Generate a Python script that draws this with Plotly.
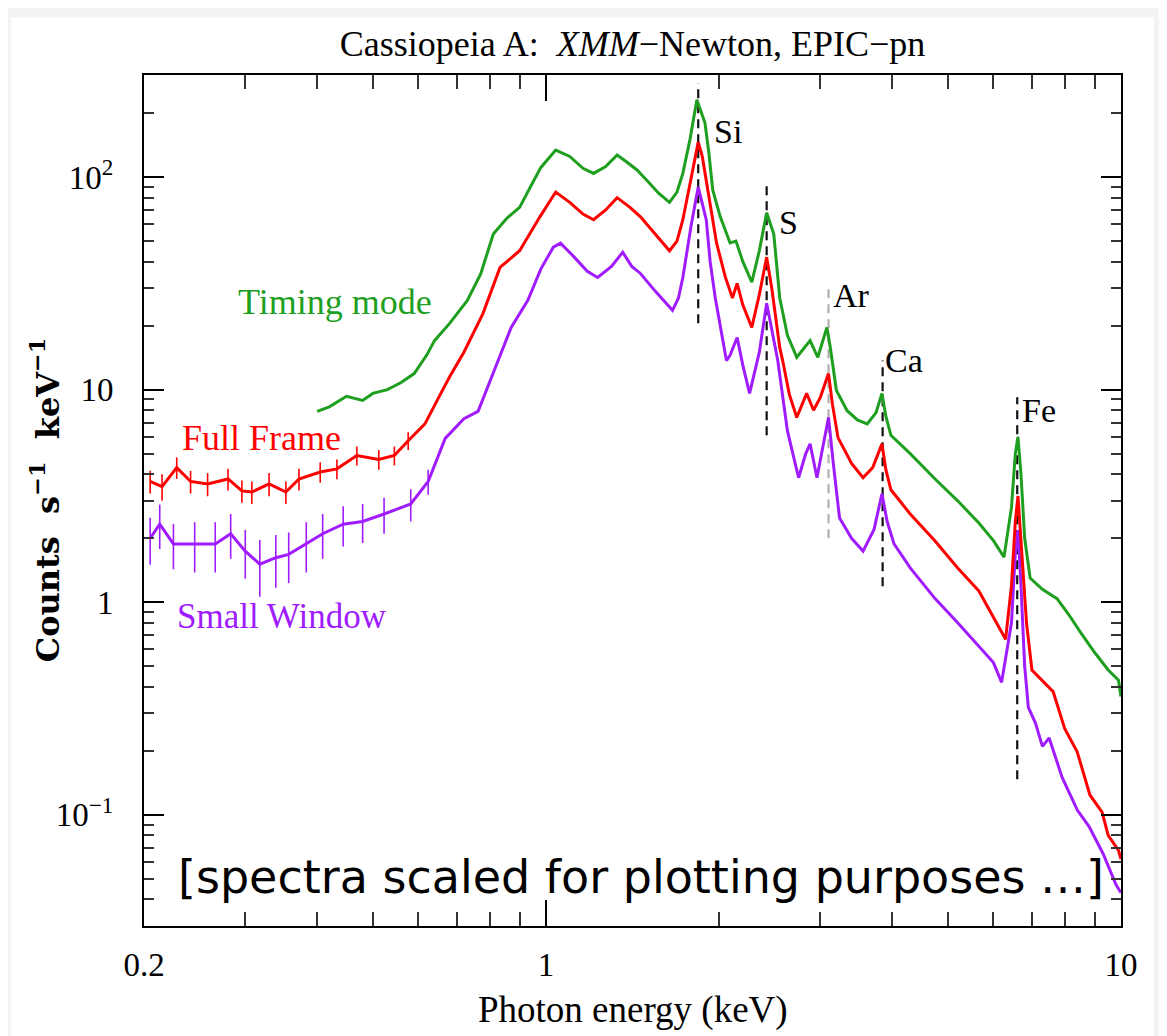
import numpy as np
import plotly.graph_objects as go

# ---------------- data ----------------
green_E = [0.40, 0.42, 0.45, 0.48, 0.50, 0.53, 0.56, 0.59, 0.62, 0.64, 0.68, 0.73, 0.77, 0.81,
           0.855, 0.90, 0.94, 0.98, 1.04, 1.10, 1.16, 1.21, 1.27, 1.33, 1.38, 1.44, 1.50, 1.57,
           1.64, 1.69, 1.73, 1.78, 1.83, 1.86, 1.89, 1.92, 1.95, 2.01, 2.09, 2.14, 2.20, 2.28,
           2.35, 2.42, 2.46, 2.49, 2.55, 2.63, 2.73, 2.80, 2.88, 2.97, 3.03, 3.08, 3.12, 3.20,
           3.34, 3.48, 3.62, 3.75, 3.84, 3.90, 3.98, 4.30, 4.75, 5.20, 5.66, 6.00, 6.26, 6.45,
           6.55, 6.62, 6.70, 6.80, 6.95, 7.30, 7.74, 8.10, 8.51, 9.00, 9.50, 9.90, 10.0]
green_V = [7.9, 8.3, 9.3, 8.9, 9.6, 10.0, 10.8, 11.9, 14.5, 17.0, 20.5, 26.3, 35.0, 54.0,
           64.0, 72.0, 90.0, 111.0, 134.0, 125.0, 110.0, 104.0, 112.0, 127.0, 118.0, 108.0, 96.0, 84.0,
           76.0, 85.0, 104.0, 150.0, 231.0, 205.0, 180.0, 130.0, 87.0, 65.0, 49.0, 50.0, 40.0, 32.0,
           45.0, 68.0, 60.0, 54.0, 27.0, 18.0, 14.2, 15.5, 17.0, 14.2, 17.0, 19.6, 16.0, 9.9,
           7.96, 7.2, 6.9, 7.8, 9.6, 7.5, 6.1, 5.0, 3.8, 3.0, 2.36, 1.95, 1.63, 2.8,
           5.0, 6.0, 4.0, 2.0, 1.30, 1.15, 1.04, 0.88, 0.72, 0.58, 0.48, 0.43, 0.36]

red_E = [0.205, 0.215, 0.228, 0.241, 0.258, 0.28, 0.296, 0.308, 0.33, 0.353, 0.372, 0.405,
         0.433, 0.469, 0.512, 0.545, 0.576, 0.616, 0.651, 0.68, 0.72, 0.777, 0.832, 0.90,
         0.976, 1.04, 1.10, 1.16, 1.21, 1.27, 1.33, 1.40, 1.46, 1.55, 1.64, 1.69, 1.73, 1.79,
         1.84, 1.87, 1.90, 1.98, 2.05, 2.11, 2.15, 2.20, 2.28, 2.35, 2.42, 2.47, 2.55, 2.58,
         2.65, 2.73, 2.84, 2.92, 3.00, 3.10, 3.15, 3.22, 3.40, 3.56, 3.70, 3.84, 3.90, 3.98,
         4.30, 4.75, 5.20, 5.66, 6.00, 6.30, 6.45, 6.55, 6.62, 6.72, 6.85, 7.00, 7.30, 7.62,
         7.98, 8.39, 8.83, 9.27, 9.50, 9.90, 10.0]
red_V = [3.7, 3.5, 4.3, 3.7, 3.6, 3.8, 3.34, 3.3, 3.6, 3.3, 3.8, 4.1,
         4.24, 4.9, 4.7, 4.9, 5.75, 6.9, 9.2, 11.5, 15.0, 22.8, 37.6, 45.0,
         65.0, 85.0, 76.0, 67.0, 63.0, 70.0, 80.0, 72.0, 65.0, 54.0, 45.0, 50.0, 63.0, 100.0,
         146.0, 125.0, 97.0, 49.0, 34.0, 27.0, 31.6, 25.0, 19.6, 28.0, 42.0, 30.0, 15.8, 13.7,
         9.5, 7.4, 9.6, 8.0, 9.2, 11.9, 8.5, 5.95, 4.5, 3.85, 4.3, 5.56, 4.2, 3.38,
         2.6, 1.94, 1.45, 1.13, 0.85, 0.67, 1.2, 2.4, 3.16, 1.8, 0.8, 0.48, 0.43, 0.38,
         0.255, 0.198, 0.124, 0.103, 0.080, 0.068, 0.062]
red_err = [0.45, 0.5, 0.5, 0.45, 0.45, 0.45, 0.4, 0.4, 0.45, 0.4, 0.45, 0.45,
           0.45, 0.5, 0.5, 0.5, 0.55]

purple_E = [0.205, 0.213, 0.225, 0.245, 0.266, 0.283, 0.300, 0.318, 0.339, 0.357, 0.383, 0.409,
            0.444, 0.48, 0.523, 0.582, 0.624, 0.668, 0.72, 0.762, 0.81, 0.87, 0.93, 0.98,
            1.03, 1.06, 1.12, 1.18, 1.23, 1.30, 1.36, 1.41, 1.46, 1.55, 1.66, 1.70, 1.73,
            1.79, 1.84, 1.87, 1.90, 1.93, 1.97, 2.06, 2.09, 2.15, 2.20, 2.26, 2.35, 2.42,
            2.46, 2.53, 2.63, 2.75, 2.83, 2.88, 2.96, 3.04, 3.10, 3.16, 3.24, 3.40, 3.56,
            3.72, 3.84, 3.92, 4.03, 4.30, 4.75, 5.20, 5.66, 6.00, 6.20, 6.45, 6.55, 6.62,
            6.70, 6.80, 6.90, 7.10, 7.30, 7.50, 7.90, 8.40, 8.80, 9.30, 9.80, 10.0]
purple_V = [2.0, 2.33, 1.88, 1.88, 1.88, 2.1, 1.74, 1.51, 1.62, 1.68, 1.88, 2.1,
            2.33, 2.4, 2.6, 2.9, 3.7, 5.9, 7.3, 7.9, 12.0, 19.6, 26.3, 37.0,
            46.8, 48.9, 42.0, 36.0, 33.7, 38.0, 44.3, 38.0, 35.2, 29.0, 23.6, 27.0, 33.7,
            60.0, 89.7, 75.0, 63.0, 40.0, 27.0, 13.7, 14.5, 17.6, 13.0, 9.6, 15.0, 25.5,
            20.0, 13.7, 6.4, 3.85, 5.0, 5.56, 3.85, 5.5, 7.4, 4.5, 2.49, 2.0, 1.74,
            2.2, 3.24, 2.4, 1.88, 1.45, 1.04, 0.80, 0.62, 0.52, 0.42, 0.8, 1.7, 2.19,
            1.2, 0.5, 0.32, 0.27, 0.21, 0.23, 0.15, 0.105, 0.088, 0.066, 0.047, 0.043]
purple_err = [0.5, 0.55, 0.45, 0.5, 0.5, 0.5, 0.45, 0.45, 0.45, 0.45, 0.5, 0.5,
              0.5, 0.5, 0.5, 0.5, 0.5]

series_names = ["Timing mode", "Full Frame", "Small Window"]

line_names = ["Si", "S", "Ar", "Ca", "Fe"]
line_E = [1.84, 2.42, 3.10, 3.85, 6.60]
line_top = [277.0, 92.0, 30.0, 13.7, 9.2]
line_bottom = [20.5, 6.1, 2.0, 1.19, 0.147]

x_tickvals = [0.2, 1, 10]
x_ticktext = ["0.2", "1", "10"]
y_tickvals = [0.1, 1, 10, 100]
y_ticktext = ["10<sup>\u22121</sup>", "1", "10", "10<sup>2</sup>"]

# ---------------- styling ----------------
GREEN = "#1f9f1f"
RED = "#ff0000"
PURPLE = "#a01cff"
SERIF = "Liberation Serif"

fig = go.Figure()

# emission-line markers (dashed)
line_colors = ["#111111", "#111111", "#b0b0b0", "#111111", "#111111"]
for e, top, bot, col in zip(line_E, line_top, line_bottom, line_colors):
    fig.add_trace(go.Scatter(x=[e, e], y=[bot, top], mode="lines",
                             line=dict(color=col, width=2.2, dash="9px,6px"),
                             showlegend=False, hoverinfo="skip"))

def pad(err, n):
    return list(err) + [0] * (n - len(err))

fig.add_trace(go.Scatter(x=purple_E, y=purple_V, mode="lines", name=series_names[2],
                         line=dict(color=PURPLE, width=3),
                         error_y=dict(type="data", array=pad(purple_err, len(purple_E)),
                                      color=PURPLE, thickness=1.6, width=0),
                         showlegend=False))
fig.add_trace(go.Scatter(x=red_E, y=red_V, mode="lines", name=series_names[1],
                         line=dict(color=RED, width=3),
                         error_y=dict(type="data", array=pad(red_err, len(red_E)),
                                      color=RED, thickness=1.6, width=0),
                         showlegend=False))
fig.add_trace(go.Scatter(x=green_E, y=green_V, mode="lines", name=series_names[0],
                         line=dict(color=GREEN, width=3), showlegend=False))

ann = []
# series labels
ann.append(dict(x=-0.367, y=1.410, text=series_names[0], font=dict(color=GREEN, size=36, family=SERIF)))
ann.append(dict(x=-0.494, y=0.774, text=series_names[1], font=dict(color=RED, size=36, family=SERIF)))
ann.append(dict(x=-0.459, y=-0.066, text=series_names[2], font=dict(color=PURPLE, size=35, family=SERIF)))
for a in ann:
    a.update(xref="x", yref="y", showarrow=False, xanchor="center", yanchor="middle")

# line labels
lab_pos = [(0.289, 2.212), (0.402, 1.788), (0.496, 1.443), (0.586, 1.137), (0.8245, 0.901)]
for name, (lx, ly) in zip(line_names, lab_pos):
    ann.append(dict(x=lx, y=ly, xref="x", yref="y", text=name, showarrow=False,
                    xanchor="left", yanchor="middle",
                    font=dict(color="black", size=34, family=SERIF)))

# note
ann.append(dict(x=0.165, y=-1.292, xref="x", yref="y",
                text="[spectra scaled for plotting purposes \u2026]", showarrow=False,
                xanchor="center", yanchor="middle",
                font=dict(color="black", size=46, family="DejaVu Sans")))

# axis titles
ann.append(dict(x=0.5, y=-0.0987, xref="paper", yref="paper", text="Photon energy (keV)",
                showarrow=False, xanchor="center", yanchor="middle",
                font=dict(color="black", size=37, family=SERIF)))
ann.append(dict(x=-0.101, y=0.5006, xref="paper", yref="paper",
                text="<b>Counts  s<sup>\u22121</sup>  keV<sup>\u22121</sup></b>", textangle=-90,
                showarrow=False, xanchor="center", yanchor="middle",
                font=dict(color="black", size=32, family="DejaVu Serif")))

axis_common = dict(
    type="log", showline=True, linecolor="black", linewidth=2, mirror="allticks",
    ticks="inside", tickcolor="black", tickwidth=2, showgrid=False, zeroline=False,
    tickfont=dict(family=SERIF, size=33, color="black"),
)

fig.update_layout(
    width=1167, height=1036,
    margin=dict(l=136, r=54, t=67, b=118),
    paper_bgcolor="#f3f3f3", plot_bgcolor="white",
    title=dict(text="Cassiopeia A:  <i>XMM</i>\u2212Newton, EPIC\u2212pn",
               x=0.5, xref="paper", xanchor="center",
               y=1 - 35 / 1036, yref="container", yanchor="middle",
               font=dict(family=SERIF, size=36, color="black")),
    xaxis=dict(axis_common, range=[np.log10(0.2), 1.0], tickvals=x_tickvals, ticktext=x_ticktext,
               ticklen=26, ticklabelstandoff=8,
               minor=dict(ticks="inside", ticklen=14, tickcolor="#333333", tickwidth=1.5,
                          dtick="D1", showgrid=False)),
    yaxis=dict(axis_common, range=[np.log10(0.030), np.log10(302)], tickvals=y_tickvals,
               ticktext=y_ticktext, ticklen=20, ticklabelstandoff=22,
               minor=dict(ticks="inside", ticklen=10, tickcolor="#333333", tickwidth=1.5,
                          dtick="D1", showgrid=False)),
    annotations=ann,
    shapes=[dict(type="rect", xref="paper", yref="paper", x0=-0.136, x1=1.034,
                 y0=-0.3, y1=1.068, fillcolor="white", line=dict(width=0), layer="below")],
    showlegend=False,
)

fig.write_html("out.html")
